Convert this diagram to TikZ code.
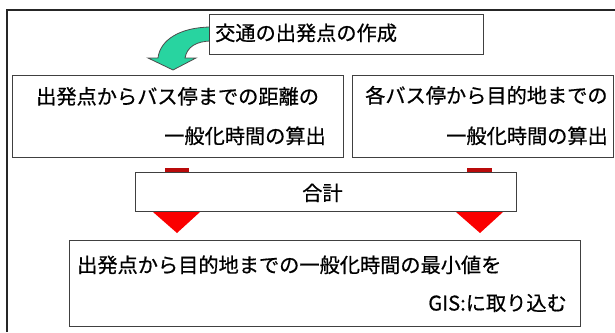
\documentclass[tikz,border=0pt]{standalone}
\usepackage{fontspec}
\newfontfamily\jp[FakeBold=0.6]{Noto Sans CJK JP}
\definecolor{mint}{RGB}{40,212,160}
\definecolor{darkred}{RGB}{185,10,10}
\definecolor{brightred}{RGB}{250,0,0}
\begin{document}
\begin{tikzpicture}[x=1pt,y=-1pt,
  box/.style={draw=black!75, line width=1.2pt, fill=white, anchor=north west, inner sep=0pt},
  txt/.style={font=\jp\fontsize{20.2}{21}\selectfont, inner sep=0pt, text=black}]
\useasboundingbox (0,0) rectangle (615,332);
\draw[line width=2pt, black!85] (7,332) -- (7,10) -- (615,10);
% green curved arrow
\draw[draw=black!70, line width=0.8pt, fill=mint]
  (212,27) .. controls (180,27) and (160,40) .. (158,58)
  -- (148,58) -- (173,70) -- (196,58) -- (185,58)
  .. controls (187,47) and (196,41) .. (212,41) -- cycle;
\node[box, minimum width=274pt, minimum height=40pt] (title) at (209,14) {};
\node[txt, anchor=base west] (titletxt) at (215,40.5) {交通の出発点の作成};
% upper boxes
\node[box, minimum width=331pt, minimum height=82pt] (left) at (12,75) {};
\node[txt, anchor=base west] (l1) at (36,104) {出発点からバス停までの距離の};
\node[txt, anchor=base east] (l2) at (326,143.5) {一般化時間の算出};
\node[box, minimum width=261pt, minimum height=82pt] (right) at (352,75) {};
\node[txt, anchor=base west] (r1) at (365,103) {各バス停から目的地までの};
\node[txt, anchor=base east] (r2) at (608,143.5) {一般化時間の算出};
% red arrows
\fill[darkred] (165,168) rectangle (189,213);
\fill[brightred] (153,212) -- (200,212) -- (177,233) -- cycle;
\fill[darkred] (467,168) rectangle (492,213);
\fill[brightred] (456,212) -- (503,212) -- (480,233) -- cycle;
% sum box
\node[box, minimum width=381pt, minimum height=39pt] (sum) at (135,172) {};
\node[txt, anchor=base west] (sumtxt) at (302,200.5) {合計};
% bottom box
\node[box, minimum width=511pt, minimum height=86pt] (bottom) at (69,240) {};
\node[txt, anchor=base west] (b1) at (77,272.5) {出発点から目的地までの一般化時間の最小値を};
\node[txt, anchor=base east] (b2) at (567,310.5) {GIS:に取り込む};
\end{tikzpicture}
\end{document}
